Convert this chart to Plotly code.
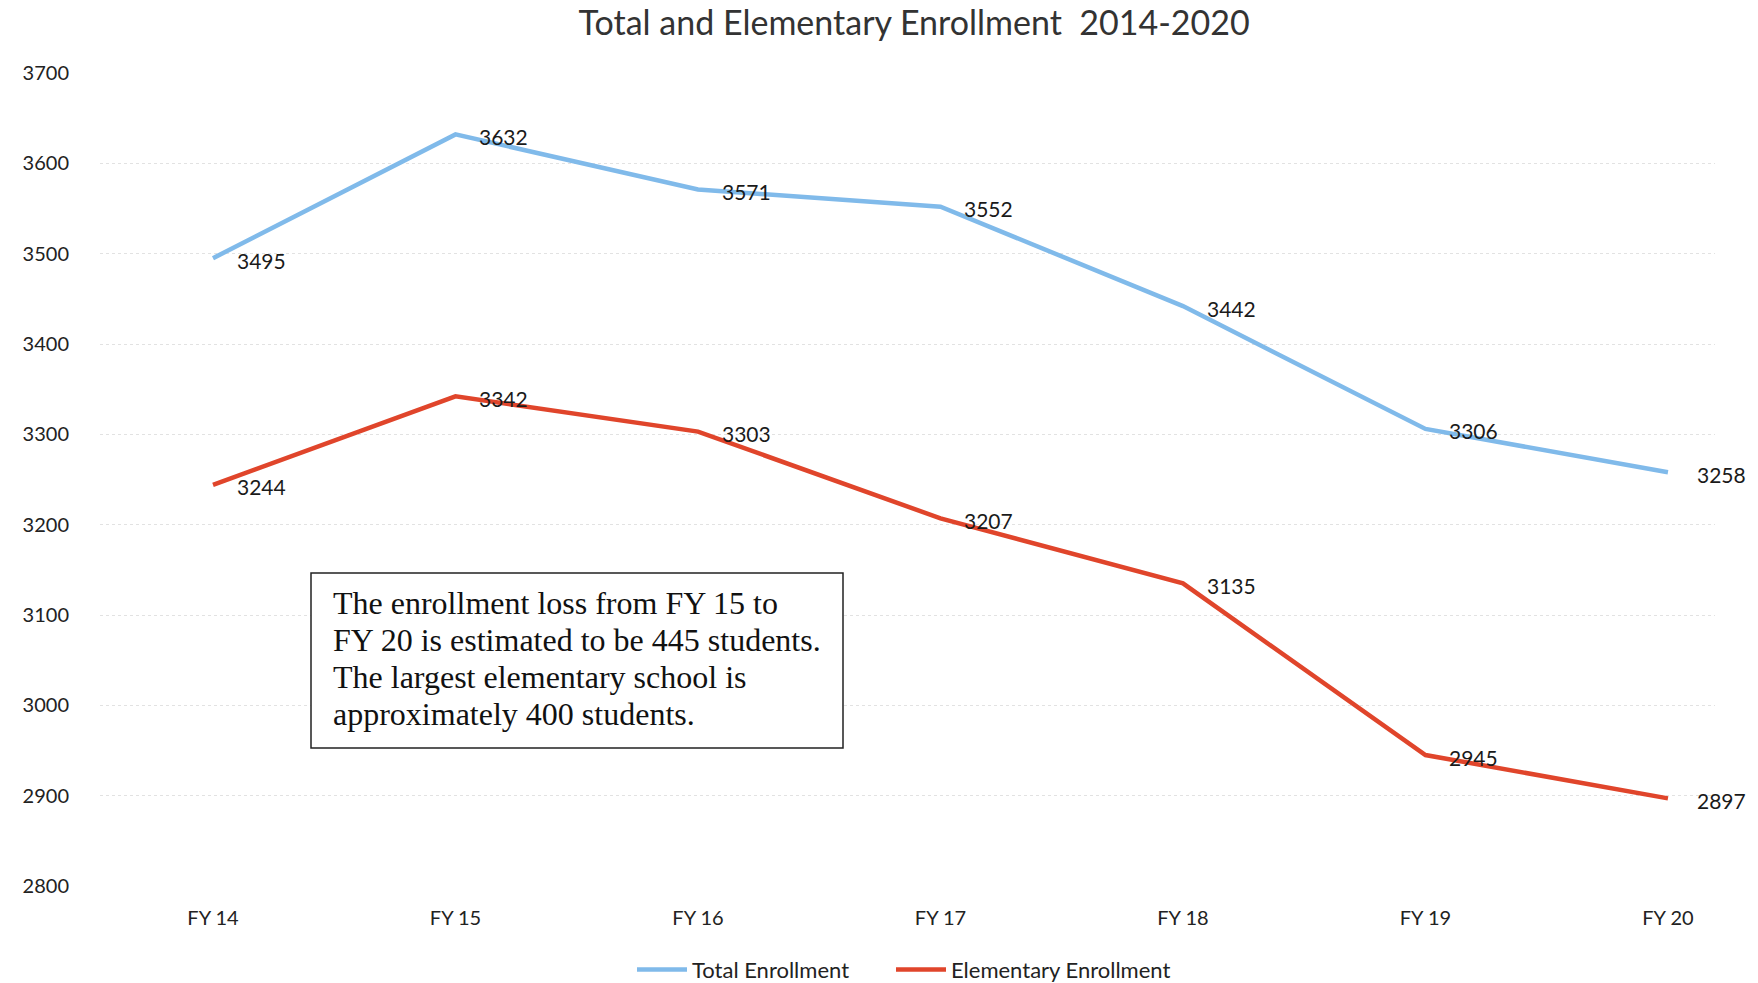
import plotly.graph_objects as go

categories = ["FY 14", "FY 15", "FY 16", "FY 17", "FY 18", "FY 19", "FY 20"]
total_enrollment = [3495, 3632, 3571, 3552, 3442, 3306, 3258]
elementary_enrollment = [3244, 3342, 3303, 3207, 3135, 2945, 2897]
y_ticks = [2800, 2900, 3000, 3100, 3200, 3300, 3400, 3500, 3600, 3700]

note_lines = [
    "The enrollment loss from FY 15 to",
    "FY 20 is estimated to be 445 students.",
    "The largest elementary school is",
    "approximately 400 students.",
]

BLUE = "#80BAEA"
RED = "#E0452B"
xs = list(range(len(categories)))

L, R, T, B = 100, 43, 73, 97
W, H = 1758, 983
pw, ph = W - L - R, H - T - B


def px_x(px):
    return (px - L) / pw


def px_y(py):
    return 1 - (py - T) / ph


fig = go.Figure()
fig.add_trace(go.Scatter(x=xs, y=total_enrollment, mode="lines", name="Total Enrollment",
                         line=dict(color=BLUE, width=4.5), legend="legend"))
fig.add_trace(go.Scatter(x=xs, y=elementary_enrollment, mode="lines", name="Elementary Enrollment",
                         line=dict(color=RED, width=4.5), legend="legend2"))

label_font = dict(family="Lato, Open Sans, sans-serif", size=21, color="#1a1a1a")
for series in (total_enrollment, elementary_enrollment):
    for i, v in enumerate(series):
        fig.add_annotation(x=xs[i], y=v, text=str(v), showarrow=False, xanchor="left",
                           yanchor="middle", xshift=27 if i == len(series) - 1 else 22,
                           yshift=-2, font=label_font)

# note box
fig.add_shape(type="rect", xref="paper", yref="paper",
              x0=px_x(311), x1=px_x(843), y0=px_y(573), y1=px_y(748),
              line=dict(color="#222", width=1.5), fillcolor="white", layer="above")
note_font = dict(family="Liberation Serif, Times New Roman, serif", size=32, color="#111")
for k, line in enumerate(note_lines):
    fig.add_annotation(x=px_x(331), y=px_y(603 + 37 * k), xref="paper", yref="paper",
                       text=line, showarrow=False, xanchor="left", yanchor="middle",
                       font=note_font)

legend_style = dict(orientation="h", xanchor="left", y=-0.103, yanchor="middle",
                    font=dict(size=22, color="#222"), itemwidth=50, bgcolor="rgba(0,0,0,0)")

fig.update_layout(
    width=W, height=H,
    margin=dict(l=L, r=R, t=T, b=B, autoexpand=False),
    paper_bgcolor="white", plot_bgcolor="white",
    title=dict(text="Total and Elementary Enrollment  2014-2020", x=0.52, xanchor="center",
               y=0.977, yanchor="middle",
               font=dict(family="Lato, Open Sans, sans-serif", size=34, color="#333")),
    font=dict(family="Lato, Open Sans, sans-serif", size=20, color="#222"),
    legend=dict(x=px_x(632), **legend_style),
    legend2=dict(x=px_x(891), **legend_style),
    showlegend=True,
)
fig.update_xaxes(range=[-0.466, 6.194], tickmode="array", tickvals=xs, ticktext=categories,
                 showgrid=False, zeroline=False, showline=False, ticks="",
                 ticklabelstandoff=18, tickfont=dict(size=20))
fig.update_yaxes(range=[2800, 3700], tickvals=y_ticks, showgrid=True, gridcolor="#e2e2e2",
                 griddash="dot", gridwidth=1, zeroline=False, showline=False, ticks="",
                 ticklabelstandoff=30, tickfont=dict(size=20))

fig.write_html("out.html")
